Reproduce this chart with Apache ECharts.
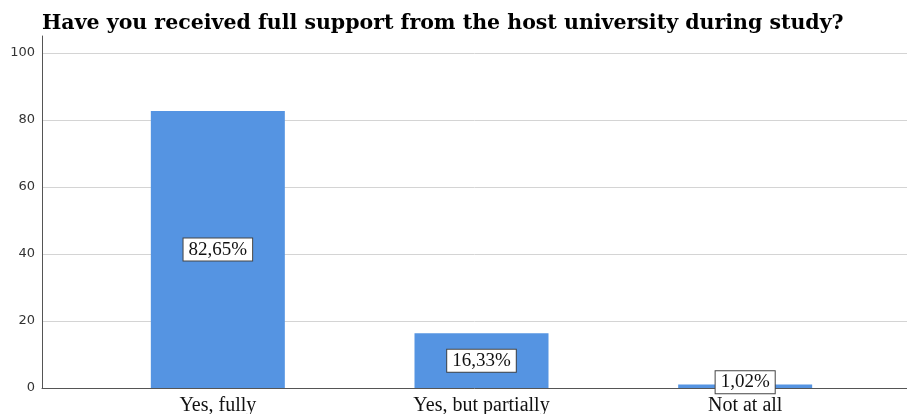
<!DOCTYPE html>
<html>
<head>
<meta charset="utf-8">
<script src="https://cdn.jsdelivr.net/npm/echarts@6/dist/echarts.min.js"></script>
<style>
  html, body { margin: 0; padding: 0; background: #fff; }
  #chart { width: 907px; height: 414px; }
</style>
</head>
<body>
<div id="chart"></div>
<script>
// Survey answers and their shares (percent)
const categories = ['Yes, fully', 'Yes, but partially', 'Not at all'];
const shares = [82.65, 16.33, 1.02];
const yTicks = [0, 20, 40, 60, 80, 100];

const chart = echarts.init(document.getElementById('chart'));
const serif = '"Liberation Serif", "Times New Roman", serif';

const fmt = v => v.toFixed(2).replace('.', ',') + '%';

chart.setOption({
  animation: false,
  title: {
    text: 'Have you received full support from the host university during study?',
    left: 37, top: 8,
    textStyle: { fontFamily: '"DejaVu Serif", serif', fontWeight: 'bold', fontSize: 20.5, color: '#000' }
  },
  grid: [
    { left: 42, right: 0, top: 53, bottom: 26, outerBoundsMode: 'none' },   // frame: value axis, gridlines, baseline
    { left: 86, right: 30, top: 53, bottom: 26, outerBoundsMode: 'none' },  // bars
    { left: 42, right: 0, top: 36, bottom: 26, outerBoundsMode: 'none' }    // extended vertical axis line
  ],
  xAxis: [
    { gridIndex: 0, type: 'value', min: 0, max: 1,
      axisLine: { show: true, lineStyle: { color: '#555', width: 1 } },
      axisTick: { show: false }, axisLabel: { show: false }, splitLine: { show: false } },
    { gridIndex: 1, type: 'category', data: categories,
      axisLine: { show: false }, axisTick: { show: false },
      axisLabel: { fontFamily: serif, fontSize: 20, color: '#111', margin: 8 } },
    { gridIndex: 2, type: 'value', show: false }
  ],
  yAxis: [
    { gridIndex: 0, type: 'value', min: yTicks[0], max: yTicks[yTicks.length - 1], interval: 20,
      axisLine: { show: false }, axisTick: { show: false },
      axisLabel: { fontFamily: '"DejaVu Sans", sans-serif', fontSize: 13, color: '#333', margin: 7 },
      splitLine: { show: true, lineStyle: { color: '#d4d4d4', width: 1 } } },
    { gridIndex: 1, type: 'value', min: 0, max: 100, show: false },
    { gridIndex: 2, type: 'value', min: 0, max: 1,
      axisLine: { show: true, lineStyle: { color: '#555', width: 1 } },
      axisTick: { show: false }, axisLabel: { show: false }, splitLine: { show: false } }
  ],
  series: [{
    type: 'bar',
    xAxisIndex: 1, yAxisIndex: 1,
    barWidth: 134,
    data: shares.map((v, i) => ({
      value: v,
      label: i === shares.length - 1 ? { offset: [0, -4] } : {}
    })),
    itemStyle: { color: '#5594e2' },
    label: {
      show: true, position: 'inside',
      formatter: p => fmt(p.value),
      fontFamily: serif, fontSize: 19, color: '#111',
      backgroundColor: '#fff', borderColor: '#444', borderWidth: 1,
      padding: [2, 5, 1, 5]
    }
  }]
});
</script>
</body>
</html>
